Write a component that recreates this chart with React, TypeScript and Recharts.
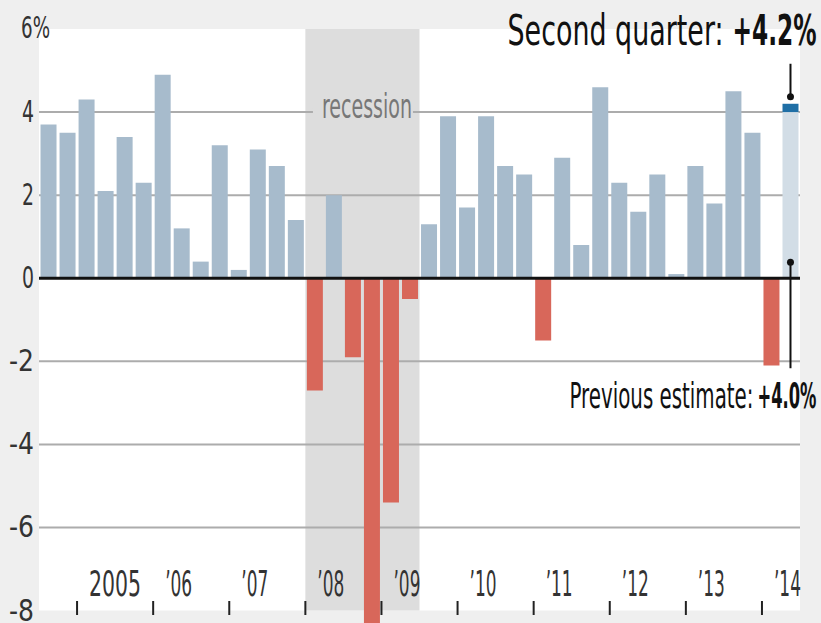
import {
  BarChart, Bar, Cell, XAxis, YAxis, CartesianGrid,
  ReferenceArea, ReferenceLine, ReferenceDot,
} from 'recharts'

const FONT = "'Liberation Sans Narrow', 'DejaVu Sans Condensed', 'Roboto Condensed', 'Liberation Sans', sans-serif"

const QUARTERS = [
  '2004 Q3', '2004 Q4',
  '2005 Q1', '2005 Q2', '2005 Q3', '2005 Q4',
  '2006 Q1', '2006 Q2', '2006 Q3', '2006 Q4',
  '2007 Q1', '2007 Q2', '2007 Q3', '2007 Q4',
  '2008 Q1', '2008 Q2', '2008 Q3', '2008 Q4',
  '2009 Q1', '2009 Q2', '2009 Q3', '2009 Q4',
  '2010 Q1', '2010 Q2', '2010 Q3', '2010 Q4',
  '2011 Q1', '2011 Q2', '2011 Q3', '2011 Q4',
  '2012 Q1', '2012 Q2', '2012 Q3', '2012 Q4',
  '2013 Q1', '2013 Q2', '2013 Q3', '2013 Q4',
  '2014 Q1', '2014 Q2',
]

// annualized GDP growth, %
const GROWTH = [
  3.7, 3.5,
  4.3, 2.1, 3.4, 2.3,
  4.9, 1.2, 0.4, 3.2,
  0.2, 3.1, 2.7, 1.4,
  -2.7, 2.0, -1.9, -8.3,
  -5.4, -0.5, 1.3, 3.9,
  1.7, 3.9, 2.7, 2.5,
  -1.5, 2.9, 0.8, 4.6,
  2.3, 1.6, 2.5, 0.1,
  2.7, 1.8, 4.5, 3.5,
  -2.1, 4.2,
]
const PREVIOUS_ESTIMATE = 4.0

const YEAR_TICKS = ['2005 Q1', '2006 Q1', '2007 Q1', '2008 Q1', '2009 Q1', '2010 Q1', '2011 Q1', '2012 Q1', '2013 Q1', '2014 Q1']
const YEAR_LABELS = ['2005', '’06', '’07', '’08', '’09', '’10', '’11', '’12', '’13', '’14']
const Y_TICKS = [-8, -6, -4, -2, 0, 2, 4, 6]
const GRID_VALUES = [-6, -4, -2, 2, 4]
const RECESSION_START = '2008 Q1'
const RECESSION_END = '2009 Q2'
const RECESSION_LABEL_AT = '2008 Q4'

const LAST = QUARTERS.length - 1
const LAST_Q = QUARTERS[LAST]

const data = QUARTERS.map((q, i) => ({
  q,
  value: i === LAST ? PREVIOUS_ESTIMATE : GROWTH[i],
  revision: i === LAST ? GROWTH[i] - PREVIOUS_ESTIMATE : null,
}))

const BLUE = '#a7bbcc'
const RED = '#d8675a'
const LIGHT = '#d2dde6'
const CAP = '#1f6fa6'
const HALF_SLOT = 9.5

function YearTick({ x, payload }: any) {
  const label = YEAR_LABELS[YEAR_TICKS.indexOf(payload.value)]
  if (!label) return null
  const left = x - HALF_SLOT
  return (
    <g>
      <line x1={left} x2={left} y1={601} y2={615} stroke="#222" strokeWidth={2} />
      <text
        x={left + 12}
        y={596}
        fontSize={36}
        fontFamily={FONT}
        fill="#333"
        textLength={label.length === 4 ? 52 : 27}
        lengthAdjust="spacingAndGlyphs"
      >
        {label}
      </text>
    </g>
  )
}

function ValueTick({ y, payload }: any) {
  const v = payload.value
  const s = String(Math.abs(v))
  if (v === 6) {
    return (
      <text x={21} y={y + 9} fontFamily={FONT} fontSize={31} fill="#333" textLength={29} lengthAdjust="spacingAndGlyphs">
        6%
      </text>
    )
  }
  const w = s.length * 12 + (v < 0 ? 13 : 0)
  return (
    <text
      x={34}
      y={y + 10}
      textAnchor="end"
      fontFamily={FONT}
      fontSize={30}
      fill="#333"
      textLength={w}
      lengthAdjust="spacingAndGlyphs"
    >
      {v < 0 ? `-${s}` : s}
    </text>
  )
}

function RecessionLabel({ cx, cy }: any) {
  return (
    <g>
      <rect x={cx - 59} y={cy - 4} width={100} height={8} fill="#dddddd" />
      <text
        x={cx - 50}
        y={cy + 6}
        fontSize={34}
        fontFamily={FONT}
        fill="#777"
        textLength={90}
        lengthAdjust="spacingAndGlyphs"
      >
        recession
      </text>
    </g>
  )
}

function CurrentNote({ cx, cy }: any) {
  return (
    <g fontFamily={FONT} fill="#111">
      <line x1={cx} x2={cx} y1={cy - 40} y2={cy - 8} stroke="#111" strokeWidth={2} />
      <circle cx={cx} cy={cy - 7} r={3.5} fill="#111" />
      <text x={cx - 283} y={45} fontSize={43} textLength={216} lengthAdjust="spacingAndGlyphs">Second quarter:</text>
      <text x={cx - 58} y={45} fontSize={43} fontWeight="bold" textLength={84} lengthAdjust="spacingAndGlyphs">+4.2%</text>
    </g>
  )
}

function PreviousNote({ cx, cy }: any) {
  return (
    <g fontFamily={FONT} fill="#111">
      <circle cx={cx} cy={cy - 16} r={3.5} fill="#111" />
      <line x1={cx} x2={cx} y1={cy - 16} y2={cy + 90} stroke="#111" strokeWidth={2} />
      <text x={cx - 221} y={cy + 130} fontSize={35} textLength={184} lengthAdjust="spacingAndGlyphs">Previous estimate:</text>
      <text x={cx - 33} y={cy + 130} fontSize={35} fontWeight="bold" textLength={59} lengthAdjust="spacingAndGlyphs">+4.0%</text>
    </g>
  )
}

export default function App() {
  return (
    <div style={{ position: 'absolute', left: 0, top: 0, width: 821, height: 623, overflow: 'hidden', background: '#efefef' }}>
      <BarChart
        width={821}
        height={653}
        data={data}
        margin={{ top: 29, right: 21, left: 0, bottom: 0 }}
        barCategoryGap="8%"
      >
        <CartesianGrid vertical={false} horizontal={false} />
        <ReferenceArea y1={-8} y2={6} fill="#ffffff" fillOpacity={1} zIndex={-95} ifOverflow="visible" />
        <ReferenceArea x1={RECESSION_START} x2={RECESSION_END} y1={-8} y2={6} fill="#dddddd" fillOpacity={1} zIndex={-90} ifOverflow="visible" />
        {GRID_VALUES.map((v) => (
          <ReferenceLine key={v} y={v} stroke="#acacac" strokeWidth={2} zIndex={-80} />
        ))}
        <ReferenceDot x={RECESSION_LABEL_AT} y={4} shape={RecessionLabel} zIndex={-70} />
        <XAxis
          dataKey="q"
          ticks={YEAR_TICKS}
          interval={0}
          height={30}
          axisLine={false}
          tickLine={false}
          tick={YearTick}
        />
        <YAxis
          width={39}
          domain={[-8.3, 6]}
          ticks={Y_TICKS}
          interval={0}
          axisLine={false}
          tickLine={false}
          tick={ValueTick}
        />
        <Bar dataKey="value" stackId="gdp" isAnimationActive={false}>
          {data.map((d, i) => (
            <Cell key={d.q} fill={i === LAST ? LIGHT : d.value < 0 ? RED : BLUE} />
          ))}
        </Bar>
        <Bar dataKey="revision" stackId="gdp" fill={CAP} isAnimationActive={false} />
        <ReferenceLine y={0} stroke="#111" strokeWidth={3} zIndex={800} />
        <ReferenceDot x={LAST_Q} y={GROWTH[LAST]} shape={CurrentNote} zIndex={900} ifOverflow="visible" />
        <ReferenceDot x={LAST_Q} y={0} shape={PreviousNote} zIndex={900} ifOverflow="visible" />
      </BarChart>
    </div>
  )
}
